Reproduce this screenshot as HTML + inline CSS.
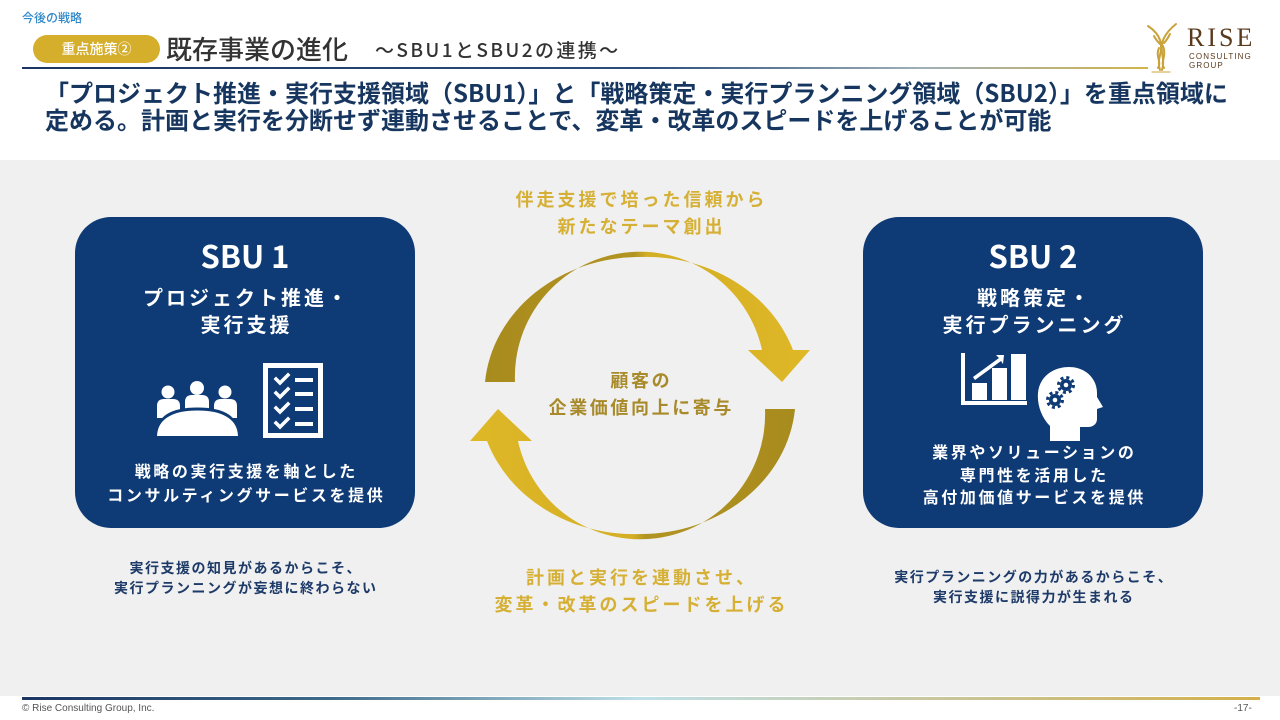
<!DOCTYPE html>
<html><head><meta charset="utf-8">
<style>
*{margin:0;padding:0;box-sizing:border-box}
body{width:1280px;height:720px;position:relative;background:#fff;overflow:hidden;font-family:"Liberation Sans","Noto Sans CJK JP",sans-serif}
.jp{font-family:"Noto Sans CJK JP","Liberation Sans",sans-serif}
.abs{position:absolute;white-space:nowrap}
.c{text-align:center}
.gray{position:absolute;left:0;top:160px;width:1280px;height:536px;background:#f0f0f0}
.box{position:absolute;top:217px;width:340px;height:311px;background:#0e3a75;border-radius:36px}
.w{color:#fff;font-weight:700}
</style></head><body>
<div class="gray"></div>

<!-- header -->
<div class="abs jp" style="left:22px;top:9px;font-size:12px;line-height:18px;color:#2f88c8;font-weight:500">今後の戦略</div>
<div class="abs jp c" style="left:33px;top:35px;width:127px;height:28px;border-radius:14px;background:#d5ae2c;color:#fff;font-size:14px;line-height:28px;font-weight:500">重点施策②</div>
<div class="abs jp" style="left:166px;top:31px;font-size:26px;line-height:36px;color:#333;font-weight:500">既存事業の進化</div>
<div class="abs jp" style="left:375px;top:36px;font-size:19px;line-height:28px;color:#333;font-weight:500;letter-spacing:2.4px">〜SBU1とSBU2の連携〜</div>
<div class="abs" style="left:22px;top:67px;width:1126px;height:2px;background:linear-gradient(90deg,#1c3561 0%,#2a4d7a 55%,#9fb0b8 80%,#d2b44a 100%)"></div>

<!-- logo -->
<svg class="abs" style="left:1140px;top:18px" width="45" height="58" viewBox="0 0 45 58">
 <g fill="none" stroke="#c9a23a" stroke-width="2" stroke-linecap="round">
  <path d="M20 52 C16 40 24 34 20 22 C18 16 14 12 8 8"/>
  <path d="M22 52 C26 40 18 32 24 20 C27 14 31 10 36 6"/>
  <path d="M18 50 C22 44 15 38 19 30"/>
  <path d="M24 50 C20 44 27 38 23 28"/>
  <path d="M14 18 C16 22 18 24 20 26"/>
  <path d="M30 16 C28 20 26 23 24 25"/>
  <path d="M12 54 L30 54" stroke="#d8b860" stroke-width="1.2"/>
 </g>
</svg>
<div class="abs" style="left:1187px;top:24px;font-family:'Liberation Serif',serif;font-size:26px;line-height:28px;color:#5a3a1c;letter-spacing:3px">RISE</div>
<div class="abs" style="left:1189px;top:52px;font-family:'Liberation Sans',sans-serif;font-size:8px;line-height:9px;color:#5a3a1c;letter-spacing:1.1px">CONSULTING</div>
<div class="abs" style="left:1189px;top:61px;font-family:'Liberation Sans',sans-serif;font-size:8px;line-height:9px;color:#5a3a1c;letter-spacing:1.1px">GROUP</div>

<!-- lead text -->
<div class="abs jp" style="left:45px;top:78px;font-size:24px;line-height:27px;color:#16365f;font-weight:700">「プロジェクト推進・実行支援領域（SBU1）」と「戦略策定・実行プランニング領域（SBU2）」を重点領域に<br>定める。計画と実行を分断せず連動させることで、変革・改革のスピードを上げることが可能</div>

<!-- SBU1 box -->
<div class="box" style="left:75px"></div>
<div class="abs jp c w" style="left:75px;top:236px;width:340px;font-size:31px;line-height:38px">SBU 1</div>
<div class="abs jp c w" style="left:75px;top:283px;width:340px;font-size:20px;line-height:27px;letter-spacing:3px;padding-left:3px">プロジェクト推進・<br>実行支援</div>
<div class="abs jp c w" style="left:75px;top:458px;width:340px;font-size:16px;line-height:24px;letter-spacing:2.6px;padding-left:2.6px">戦略の実行支援を軸とした<br>コンサルティングサービスを提供</div>

<svg class="abs" style="left:150px;top:355px" width="185" height="90" viewBox="150 355 185 90">
 <g fill="#fff">
  <circle cx="168" cy="392" r="6.5"/>
  <circle cx="197" cy="388" r="7"/>
  <circle cx="225" cy="392" r="6.5"/>
  <path d="M157 418 L157 406 Q157 399 164 399 L173 399 Q180 399 180 406 L180 418 Z"/>
  <path d="M185 416 L185 402 Q185 395 192 395 L202 395 Q209 395 209 402 L209 416 Z"/>
  <path d="M214 418 L214 406 Q214 399 221 399 L230 399 Q237 399 237 406 L237 418 Z"/>
  <path d="M157 435 Q158 409 197.5 409 Q237 409 238 435 Z" stroke="#0e3a75" stroke-width="3"/>
  <path d="M157 436 Q158 411 197.5 411 Q237 411 238 436 Z"/>
 </g>
 <rect x="265.5" y="365.5" width="55" height="70" fill="none" stroke="#fff" stroke-width="5"/>
 <g stroke="#fff" stroke-width="3.5" fill="none" stroke-linecap="square">
  <path d="M276 379 L280 383 L288 375"/>
  <path d="M276 393 L280 397 L288 389"/>
  <path d="M276 408 L280 412 L288 404"/>
  <path d="M276 423 L280 427 L288 419"/>
 </g>
 <g fill="#fff">
  <rect x="295" y="378" width="18" height="4"/>
  <rect x="295" y="392" width="18" height="4"/>
  <rect x="295" y="407" width="18" height="4"/>
  <rect x="295" y="422" width="18" height="4"/>
 </g>
</svg>

<!-- SBU2 box -->
<div class="box" style="left:863px"></div>
<div class="abs jp c w" style="left:863px;top:236px;width:340px;font-size:31px;line-height:38px">SBU 2</div>
<div class="abs jp c w" style="left:863px;top:283px;width:340px;font-size:20px;line-height:27px;letter-spacing:3px;padding-left:3px">戦略策定・<br>実行プランニング</div>
<div class="abs jp c w" style="left:863px;top:440px;width:340px;font-size:16px;line-height:22.5px;letter-spacing:2.6px;padding-left:2.6px">業界やソリューションの<br>専門性を活用した<br>高付加価値サービスを提供</div>

<svg class="abs" style="left:950px;top:345px" width="160" height="100" viewBox="950 345 160 100">
 <g fill="#fff">
  <rect x="961" y="353" width="4" height="52"/>
  <rect x="961" y="401" width="66" height="4"/>
  <rect x="972" y="383" width="15" height="17"/>
  <rect x="992" y="368" width="15" height="32"/>
  <rect x="1011" y="354" width="15" height="46"/>
  <path d="M1004 355 L996 355 L999 358 L973 377 L975 380 L1001 361 L1003 364 Z"/>
  <path d="M1050 441 L1050 426 C1041 417 1037 404 1038 393 C1039 378 1052 367 1069 367 C1086 367 1097 379 1097 393 L1097 397 L1103 407 L1097 409 L1097 419 C1097 424 1093 427 1088 427 L1080 427 L1080 441 Z"/>
 </g>
 <g fill="#0e3a75">
  <circle cx="1066" cy="385" r="6"/>
  <circle cx="1066" cy="385" r="7.5" fill="none" stroke="#0e3a75" stroke-width="3" stroke-dasharray="3 2.9"/>
  <circle cx="1055" cy="400" r="6"/>
  <circle cx="1055" cy="400" r="7.5" fill="none" stroke="#0e3a75" stroke-width="3" stroke-dasharray="3 2.9"/>
 </g>
 <circle cx="1066" cy="385" r="2.3" fill="#fff"/>
 <circle cx="1055" cy="400" r="2.3" fill="#fff"/>
</svg>

<!-- captions below boxes -->
<div class="abs jp c" style="left:75px;top:558px;width:340px;font-size:14px;line-height:20px;color:#1d3a68;font-weight:700;letter-spacing:1.5px;padding-left:1.5px">実行支援の知見があるからこそ、<br>実行プランニングが妄想に終わらない</div>
<div class="abs jp c" style="left:863px;top:567px;width:340px;font-size:14px;line-height:20px;color:#1d3a68;font-weight:700;letter-spacing:1.5px;padding-left:1.5px">実行プランニングの力があるからこそ、<br>実行支援に説得力が生まれる</div>

<!-- cycle arrows -->
<svg class="abs" style="left:0;top:0" width="1280" height="720" viewBox="0 0 1280 720">
 <defs>
  <linearGradient id="g" x1="485" y1="0" x2="810" y2="0" gradientUnits="userSpaceOnUse">
   <stop offset="0" stop-color="#a88b1d"/>
   <stop offset="0.46" stop-color="#b29422"/>
   <stop offset="0.5" stop-color="#d4ae24"/>
   <stop offset="1" stop-color="#deb826"/>
  </linearGradient>
 </defs>
 <path id="arc" fill="url(#g)" d="M485 382 A155 137 0 0 1 640 257 A155 137 0 0 1 793 350 L810 350 L782 382 L748 350 L762 350 A125 125 0 0 0 515 382 Z"/>
 <use href="#arc" transform="rotate(180 640 395.5)"/>
</svg>

<!-- center gold texts -->
<div class="abs jp c" style="left:440px;top:186px;width:400px;font-size:18px;line-height:27px;color:#d6b035;font-weight:700;letter-spacing:3px;padding-left:3px">伴走支援で培った信頼から<br>新たなテーマ創出</div>
<div class="abs jp c" style="left:440px;top:367px;width:400px;font-size:18px;line-height:27px;color:#a88a2a;font-weight:700;letter-spacing:2.6px;padding-left:2.6px">顧客の<br>企業価値向上に寄与</div>
<div class="abs jp c" style="left:440px;top:564px;width:400px;font-size:18px;line-height:27px;color:#d6b035;font-weight:700;letter-spacing:3px;padding-left:3px">計画と実行を連動させ、<br>変革・改革のスピードを上げる</div>

<!-- footer -->
<div class="abs" style="left:22px;top:697px;width:1238px;height:3px;background:linear-gradient(90deg,#1c3561 0%,#3d6a8a 25%,#bfe0e8 50%,#c9c59a 75%,#d3b04a 100%)"></div>
<div class="abs" style="left:22px;top:702px;font-size:10px;line-height:13px;color:#555;font-family:'Liberation Sans',sans-serif">© Rise Consulting Group, Inc.</div>
<div class="abs" style="left:1234px;top:702px;font-size:10px;line-height:13px;color:#555;font-family:'Liberation Sans',sans-serif">-17-</div>
</body></html>
